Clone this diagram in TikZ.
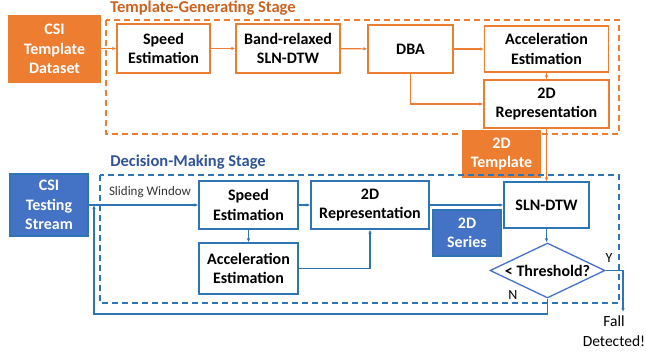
\documentclass[tikz,border=0pt]{standalone}
\usepackage{fontspec}
\setmainfont{Carlito}
\usepackage{xcolor}
\definecolor{naranjos}{RGB}{237,125,49}
\definecolor{naranjot}{RGB}{204,98,32}
\definecolor{azulos}{RGB}{46,117,182}
\definecolor{azulrel}{RGB}{68,114,196}
\definecolor{azult}{RGB}{47,85,151}
\usepackage{tikz}
\usetikzlibrary{shapes, arrows, positioning, arrows.meta}

\tikzset{
  caja/.style = {draw, line width=1.3pt, fill=white, inner sep=0pt, align=center,
                 font=\fontsize{16}{19.5}\selectfont\bfseries},
  bloque/.style = {caja, text=white},
  flecha/.style = {line width=1.1pt, -{Latex[length=4pt,width=3.5pt]}},
  linea/.style = {line width=1.1pt},
  etapa/.style = {line width=1.3pt, dash pattern=on 6pt off 4pt},
  titulo/.style = {font=\fontsize{16.5}{19}\selectfont\bfseries, inner sep=0pt}
}

\begin{document}
\begin{tikzpicture}[x=1pt, y=-1pt]
      \useasboundingbox (0,0) rectangle (646,354);

      % Etapa de plantillas
      \draw[naranjos, etapa] (106,20) rectangle (619,134);
      \node[titulo, text=naranjot] (tgs) at (203,8) {Template-Generating Stage};

      \node[bloque, draw=naranjos, fill=naranjos, minimum width=91, minimum height=66] (dataset) at (54.5,49) {CSI\\Template\\Dataset};
      \node[caja, draw=naranjos, minimum width=93, minimum height=49] (sp1) at (163.5,48.5) {Speed\\Estimation};
      \node[caja, draw=naranjos, minimum width=104, minimum height=49] (band) at (288,48.5) {Band-relaxed\\SLN-DTW};
      \node[caja, draw=naranjos, minimum width=85, minimum height=48] (dba) at (410.5,49) {DBA};
      \node[caja, draw=naranjos, minimum width=124, minimum height=46] (acc1) at (546.5,49) {Acceleration\\Estimation};
      \node[caja, draw=naranjos, minimum width=125, minimum height=48] (rep1) at (546.5,104) {2D\\Representation};
      \node[bloque, draw=naranjos, fill=naranjos, minimum width=77, minimum height=46] (tmpl) at (501.5,154) {2D\\Template};

      \draw[naranjos, flecha] (dataset.east |- sp1.west) -- (sp1.west);
      \draw[naranjos, flecha] (sp1) -- (band);
      \draw[naranjos, flecha] (band) -- (dba);
      \draw[naranjos, flecha] (dba.east) -- (acc1.west |- dba.east);
      \draw[naranjos, flecha] (acc1.south) -- (rep1.north);
      \draw[naranjos, flecha] (dba.south) |- (rep1.west);

      % Etapa de decision
      \draw[azulos, etapa] (100,175) rectangle (619,303);
      \node[titulo, text=azult] (dms) at (188,162) {Decision-Making Stage};

      \node[bloque, draw=azulos, fill=azulrel, minimum width=78, minimum height=62] (stream) at (49,205) {CSI\\Testing\\Stream};
      \node[caja, draw=azulos, minimum width=99, minimum height=48] (sp2) at (248.5,205) {Speed\\Estimation};
      \node[caja, draw=azulos, minimum width=99, minimum height=51] (acc2) at (248.5,268.5) {Acceleration\\Estimation};
      \node[caja, draw=azulos, minimum width=118, minimum height=48] (rep2) at (370,205) {2D\\Representation};
      \node[bloque, draw=azulos, fill=azulrel, minimum width=68, minimum height=46] (series) at (467,233) {2D\\Series};
      \node[caja, draw=azulos, minimum width=85, minimum height=46] (sln) at (546.5,205) {SLN-DTW};
      \node[caja, draw=azulrel, diamond, shape aspect=2.1, minimum width=115, minimum height=55] (thr) at (547.5,270.5) {< Threshold?};

      \node[font=\fontsize{13}{15}\selectfont, text=black!80, inner sep=0pt] (sw) at (150,192) {Sliding Window};
      \node[font=\fontsize{14}{16}\selectfont, inner sep=0pt] (ylab) at (609,258) {Y};
      \node[font=\fontsize{14}{16}\selectfont, inner sep=0pt] (nlab) at (513,295) {N};
      \node[font=\fontsize{15.5}{20}\selectfont, align=center, inner sep=0pt, anchor=north] (fall) at (614,316) {Fall\\Detected!};

      \coordinate (cruce) at (94,205);
      \coordinate (bajo) at (94,314);
      \coordinate (fin) at (623,312);

      \draw[azulos, flecha] (stream.east) -- (sp2.west);
      \draw[azulos, flecha] (sp2) -- (rep2);
      \draw[azulos, flecha] (rep2) -- (sln);
      \draw[azulos, flecha] (sp2.south) -- (acc2.north);
      \draw[azulos, flecha] (acc2.east) -| (rep2.south);
      \draw[azulos, flecha] (sln.south) -- (thr.north -| sln.south);
      \draw[naranjos, flecha] (rep1.south) -- (sln.north);

      % Salidas Y / N
      \draw[azulos, flecha] (thr.east) -| (fin);
      \draw[azulos, flecha] (thr.south) |- (bajo) -- (cruce);
    \end{tikzpicture}
\end{document}
